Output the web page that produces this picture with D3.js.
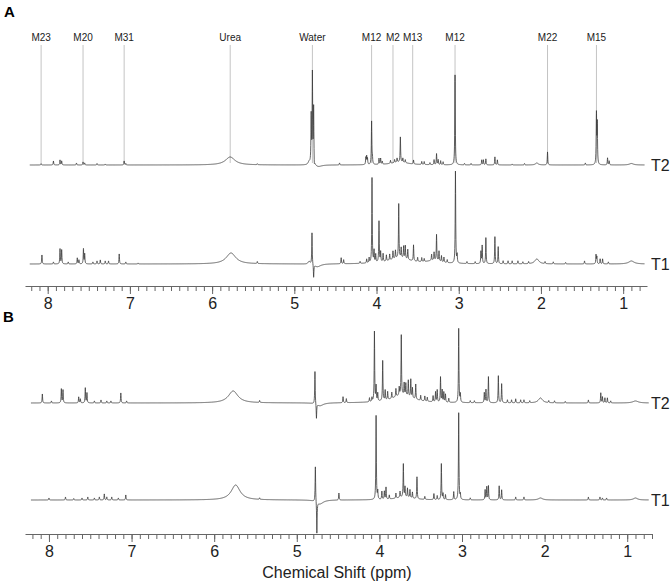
<!DOCTYPE html>
<html>
<head>
<meta charset="utf-8">
<script src="https://cdn.jsdelivr.net/npm/d3@7.9.0/dist/d3.min.js"></script>
<style>
  body { margin: 0; background: #fff; }
  svg { font-family: Arial, "Liberation Sans", sans-serif; }
</style>
</head>
<body>
<svg id="chart" width="672" height="584"></svg>
<script>
// peak lists: [ppm, height, half-width (optional)]
const peaksA_T2 = [
  [8.08, 1.5], [7.93, 4], [7.85, 5], [7.83, 4], [7.65, 2], [7.57, 3], [7.55, 2], [7.40, 1.5], [7.30, 1], [7.07, 4], [7.05, 1.5],
  [5.78, 8, 0.07], [5.45, 1],
  [4.82, 3, 0.015], [4.795, 48], [4.78, 90], [4.765, 57], [4.757, -8], [4.71, -2, 0.05],
  [4.45, 2], [4.13, 7], [4.12, 8], [4.11, 6], [4.06, 43], [4.05, 6],
  [3.97, 6], [3.95, 6], [3.93, 3], [3.83, 3], [3.78, 3], [3.75, 4], [3.71, 25], [3.68, 4], [3.65, 3],
  [3.55, 4], [3.45, 3], [3.42, 3], [3.35, 2], [3.30, 5], [3.27, 11], [3.25, 5], [3.22, 4], [3.19, 3],
  [3.045, 90], [2.93, 1.5], [2.85, 1.5], [2.72, 5], [2.70, 5], [2.67, 6], [2.56, 8], [2.53, 5],
  [2.35, 1], [2.20, 1.5], [2.05, 2, 0.02], [1.92, 13], [1.46, 2], [1.325, 50], [1.315, 40],
  [1.19, 7], [1.17, 4], [0.90, 1.5, 0.03], [3.72, 3, 0.12]
];
const peaksA_T1 = [
  [8.07, 9], [7.93, 2], [7.85, 15], [7.83, 14], [7.75, 2], [7.64, 6], [7.62, 4], [7.565, 15], [7.55, 10],
  [7.45, 2], [7.40, 3], [7.36, 4], [7.30, 3], [7.26, 3], [7.13, 10], [7.05, 2], [6.90, 1],
  [5.77, 11, 0.07], [5.45, 2],
  [4.82, 3, 0.015], [4.785, 32], [4.765, -13], [4.72, -3, 0.05],
  [4.43, 6], [4.40, 4], [4.20, 2], [4.12, 4], [4.09, 5], [4.055, 85], [4.03, 12], [4.01, 8],
  [3.97, 41], [3.95, 10], [3.92, 8], [3.88, 6], [3.84, 6], [3.80, 8], [3.77, 8], [3.73, 54], [3.70, 10],
  [3.67, 12], [3.65, 13], [3.62, 10], [3.55, 16], [3.50, 4], [3.45, 4], [3.42, 3],
  [3.33, 6], [3.30, 8], [3.27, 26], [3.24, 10], [3.21, 6], [3.18, 5], [3.14, 3], [3.04, 92], [3.02, 8],
  [2.90, 2], [2.80, 2], [2.73, 12], [2.715, 18], [2.67, 26], [2.56, 27], [2.52, 17], [2.46, 3], [2.40, 3],
  [2.35, 3], [2.28, 3], [2.22, 2], [2.15, 2], [2.05, 5, 0.03], [1.95, 2], [1.85, 2], [1.70, 1.5], [1.47, 3],
  [1.33, 9], [1.32, 7], [1.28, 5], [1.25, 5], [1.18, 2], [0.90, 3, 0.04], [3.72, 6, 0.15], [3.30, 3, 0.1]
];
const peaksB_T2 = [
  [8.08, 9], [7.97, 2], [7.85, 14], [7.83, 13], [7.64, 6], [7.62, 4], [7.56, 15], [7.54, 10], [7.45, 2],
  [7.37, 3], [7.30, 2], [7.25, 2], [7.13, 10], [7.06, 2],
  [5.77, 12, 0.07], [5.45, 2],
  [4.78, 33], [4.762, -15], [4.72, -3, 0.05],
  [4.44, 6], [4.40, 4], [4.12, 4], [4.09, 4], [4.06, 70], [4.04, 15], [4.02, 8],
  [3.96, 40], [3.93, 10], [3.90, 8], [3.85, 6], [3.80, 8], [3.76, 8], [3.735, 60], [3.70, 12], [3.68, 12],
  [3.65, 16], [3.62, 18], [3.60, 10], [3.56, 15], [3.50, 5], [3.45, 5], [3.42, 4], [3.35, 6], [3.32, 10],
  [3.30, 12], [3.26, 25], [3.24, 12], [3.22, 10], [3.20, 8], [3.16, 4], [3.04, 74], [3.02, 8],
  [2.90, 2], [2.85, 2], [2.73, 10], [2.71, 13], [2.68, 26], [2.56, 27], [2.52, 19], [2.45, 3], [2.40, 3],
  [2.35, 4], [2.29, 3], [2.25, 3], [2.18, 2], [2.05, 5, 0.03], [1.95, 2], [1.88, 2], [1.75, 1.5], [1.47, 3],
  [1.32, 10], [1.30, 6], [1.27, 5], [1.24, 5], [1.20, 2], [0.90, 2, 0.04], [3.72, 8, 0.15]
];
const peaksB_T1 = [
  [8.00, 2], [7.80, 3], [7.70, 1.5], [7.60, 2], [7.53, 3], [7.45, 2], [7.39, 3], [7.33, 6], [7.30, 3],
  [7.24, 3], [7.16, 2], [7.07, 5],
  [5.74, 15, 0.065], [5.45, 1.5],
  [4.775, 36], [4.757, -32], [4.72, -4, 0.05],
  [4.49, 7], [4.04, 84], [4.02, 8], [3.97, 8], [3.94, 8], [3.92, 12], [3.88, 4], [3.80, 5], [3.75, 6],
  [3.71, 33], [3.69, 10], [3.66, 9], [3.63, 8], [3.60, 6], [3.545, 22], [3.45, 3], [3.34, 6], [3.30, 4],
  [3.25, 36], [3.23, 6], [3.20, 5], [3.10, 8], [3.04, 87], [3.02, 5],
  [2.90, 2], [2.72, 10], [2.70, 13], [2.68, 14], [2.55, 14], [2.52, 10], [2.35, 3], [2.25, 3],
  [2.05, 2, 0.03], [1.47, 3], [1.33, 3], [1.30, 2], [1.25, 2], [0.90, 2, 0.03], [3.70, 3, 0.12]
];

const markerNames = ["M23", "M20", "M31", "Urea", "Water", "M12", "M2", "M13", "M12", "M22", "M15"];
const markerPpm = [8.08, 7.57, 7.07, 5.78, 4.78, 4.06, 3.80, 3.56, 3.045, 1.92, 1.325];

const majorTicks = [8, 7, 6, 5, 4, 3, 2, 1];
const spectrumRange = [8.22, 0.74];

const svg = d3.select("#chart");

function spectrum(peaks) {
  const grid = d3.range(spectrumRange[1], spectrumRange[0], 0.002);
  peaks.forEach(p => grid.push(p[0]));
  grid.sort((a, b) => b - a);
  return grid.map(x => {
    let y = 0;
    for (const [c, h, w0] of peaks) {
      const w = w0 || 0.0035;
      const d = x - c;
      y += h * w * w / (d * d + w * w);
    }
    return [x, y];
  });
}

function panel(cfg) {
  const x = d3.scaleLinear().domain(cfg.domain).range(cfg.range);
  const y = d3.scaleLinear().domain([0, 100]).range([cfg.axisY, cfg.axisY - 100]);
  const g = svg.append("g");

  // axis: integer ticks + 0.1 ppm minor ticks
  const minor = d3.range(1, 83).map(i => i / 10).filter(v => v >= cfg.domain[1] && v <= cfg.domain[0]);
  g.append("g")
    .attr("transform", `translate(0,${cfg.axisY})`)
    .call(d3.axisBottom(x).tickValues(minor).tickSize(5).tickSizeOuter(0).tickFormat(""))
    .call(a => a.selectAll("line,path").attr("stroke", "#666"));
  g.append("g")
    .attr("transform", `translate(0,${cfg.axisY})`)
    .call(d3.axisBottom(x).tickValues(majorTicks).tickSize(8).tickSizeOuter(0).tickPadding(4))
    .call(a => a.select(".domain").remove())
    .call(a => a.selectAll("line").attr("stroke", "#666"))
    .call(a => a.selectAll("text").attr("font-size", 16).attr("fill", "#222").attr("font-family", "Arial, 'Liberation Sans', sans-serif"));

  cfg.series.forEach(s => {
    const line = d3.line()
      .x(d => x(d[0]))
      .y(d => y(s.offset + d[1]));
    g.append("path")
      .datum(spectrum(s.peaks))
      .attr("fill", "none")
      .attr("stroke", "#3a3a3a")
      .attr("stroke-width", 0.8)
      .attr("d", line);
    g.append("text")
      .attr("x", 651)
      .attr("y", y(s.offset))
      .attr("dy", "0.36em")
      .attr("font-size", 16)
      .attr("fill", "#222")
      .text(s.name);
  });
  return { x, y, g };
}

// panel A
const A = panel({
  domain: [8.276, 0.71], range: [25, 647], axisY: 286,
  series: [{ name: "T2", peaks: peaksA_T2, offset: 121 }, { name: "T1", peaks: peaksA_T1, offset: 22 }]
});

const marks = A.g.insert("g", ":first-child");
marks.selectAll("line")
  .data(markerPpm)
  .join("line")
  .attr("x1", d => A.x(d)).attr("x2", d => A.x(d))
  .attr("y1", 45).attr("y2", 163)
  .attr("stroke", "#c4c4c4")
  .attr("stroke-width", 1);
marks.selectAll("text")
  .data(markerPpm)
  .join("text")
  .attr("x", d => A.x(d))
  .attr("y", 41)
  .attr("text-anchor", "middle")
  .attr("font-size", 10)
  .attr("fill", "#222")
  .text((d, i) => markerNames[i]);

// panel B
panel({
  domain: [8.29, 0.70], range: [25, 652], axisY: 534,
  series: [{ name: "T2", peaks: peaksB_T2, offset: 131 }, { name: "T1", peaks: peaksB_T1, offset: 34 }]
});

svg.append("text").attr("x", 4).attr("y", 17).attr("font-size", 15).attr("font-weight", "bold").text("A");
svg.append("text").attr("x", 3).attr("y", 322).attr("font-size", 15).attr("font-weight", "bold").text("B");
svg.append("text")
  .attr("x", 337).attr("y", 578)
  .attr("text-anchor", "middle")
  .attr("font-size", 16)
  .attr("fill", "#222")
  .text("Chemical Shift (ppm)");
</script>
</body>
</html>
